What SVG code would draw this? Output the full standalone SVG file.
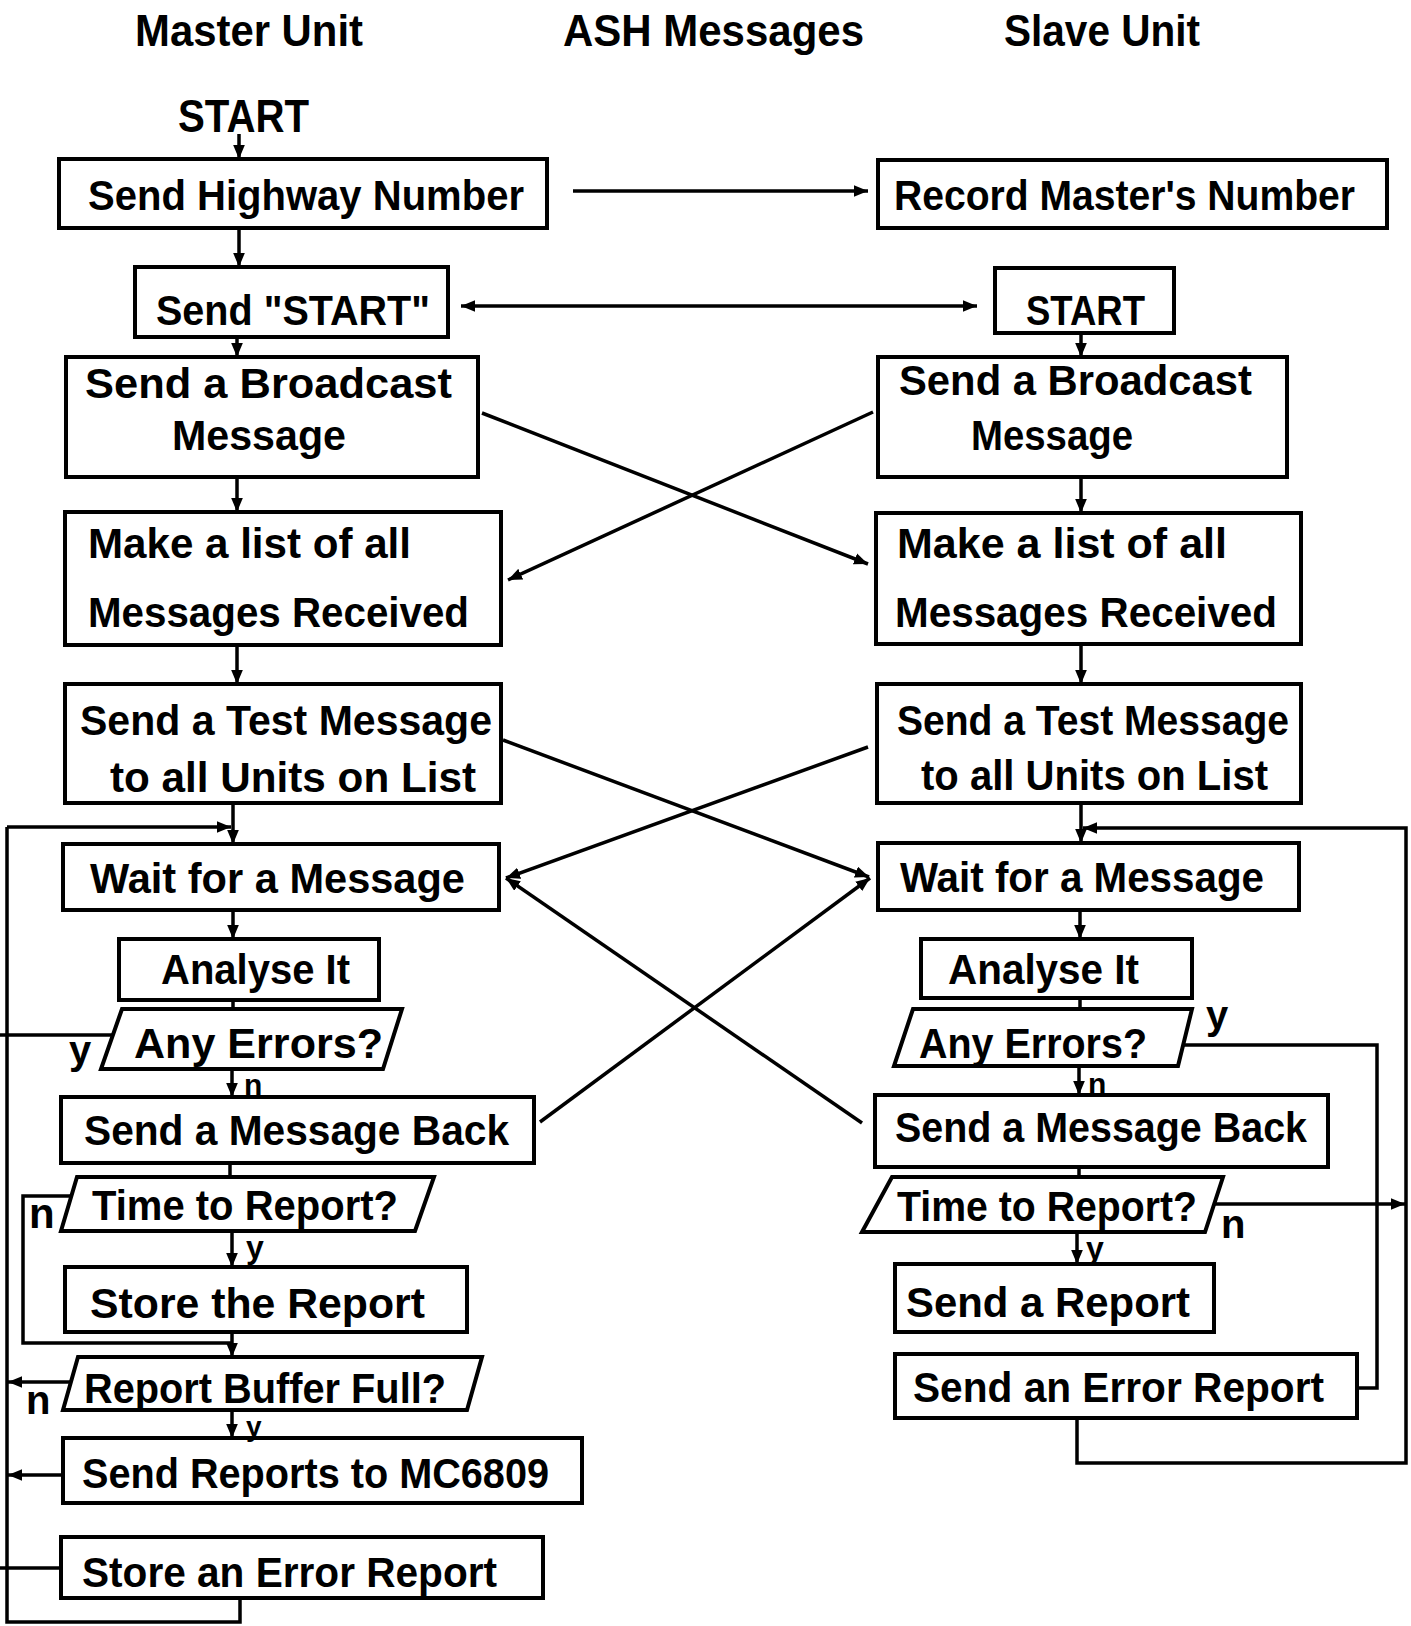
<svg xmlns="http://www.w3.org/2000/svg" width="1411" height="1626" viewBox="0 0 1411 1626">
<style>
.box{fill:#fff;stroke:#000;stroke-width:4}
.t{font-family:"Liberation Sans",Arial,sans-serif;font-weight:bold;font-size:42px;fill:#000}
.h{font-size:44px}
.lb{font-family:"Liberation Sans",Arial,sans-serif;font-weight:bold;fill:#000}
.c{stroke:#000;stroke-width:3.5;fill:none}
</style>
<defs>
<marker id="ah" viewBox="0 0 12 10" refX="12" refY="5" markerWidth="14" markerHeight="12" markerUnits="userSpaceOnUse" orient="auto-start-reverse">
<path d="M0,0 L12,5 L0,10 z" fill="#000"/>
</marker>
</defs>
<rect width="1411" height="1626" fill="#fff"/>

<g id="headers">
<text class="t h" x="135" y="46" textLength="228" lengthAdjust="spacingAndGlyphs">Master Unit</text>
<text class="t h" x="563" y="46" textLength="301" lengthAdjust="spacingAndGlyphs">ASH Messages</text>
<text class="t h" x="1004" y="46" textLength="196" lengthAdjust="spacingAndGlyphs">Slave Unit</text>
<text class="t" x="178" y="132" textLength="131" lengthAdjust="spacingAndGlyphs" style="font-size:46px">START</text>
</g>

<g id="connectors">
<!-- master flow -->
<line class="c" x1="239" y1="134" x2="239" y2="159" marker-end="url(#ah)"/>
<line class="c" x1="239" y1="228" x2="239" y2="267" marker-end="url(#ah)"/>
<line class="c" x1="237" y1="337" x2="237" y2="357" marker-end="url(#ah)"/>
<line class="c" x1="237" y1="477" x2="237" y2="512" marker-end="url(#ah)"/>
<line class="c" x1="237" y1="645" x2="237" y2="684" marker-end="url(#ah)"/>
<line class="c" x1="233" y1="803" x2="233" y2="844" marker-end="url(#ah)"/>
<line class="c" x1="7" y1="827" x2="231" y2="827" marker-end="url(#ah)"/>
<line class="c" x1="233" y1="910" x2="233" y2="939" marker-end="url(#ah)"/>
<line class="c" x1="233" y1="1000" x2="233" y2="1009"/>
<line class="c" x1="232" y1="1069" x2="232" y2="1097" marker-end="url(#ah)"/>
<line class="c" x1="230" y1="1163" x2="230" y2="1177"/>
<line class="c" x1="232" y1="1231" x2="232" y2="1267" marker-end="url(#ah)"/>
<line class="c" x1="232" y1="1332" x2="232" y2="1357" marker-end="url(#ah)"/>
<polyline class="c" points="71,1196 23,1196 23,1343 232,1343"/>
<line class="c" x1="232" y1="1410" x2="232" y2="1438" marker-end="url(#ah)"/>
<line class="c" x1="113" y1="1035" x2="0" y2="1035"/>
<line class="c" x1="71" y1="1382" x2="8" y2="1382" marker-end="url(#ah)"/>
<line class="c" x1="63" y1="1475" x2="8" y2="1475" marker-end="url(#ah)"/>
<line class="c" x1="61" y1="1568" x2="0" y2="1568"/>
<polyline class="c" points="240,1598 240,1622 7,1622 7,827"/>
<!-- messages -->
<line class="c" x1="573" y1="191" x2="868" y2="191" marker-end="url(#ah)"/>
<line class="c" x1="461" y1="306" x2="977" y2="306" marker-start="url(#ah)" marker-end="url(#ah)"/>
<line class="c" x1="482" y1="413" x2="868" y2="564" marker-end="url(#ah)"/>
<line class="c" x1="873" y1="412" x2="508" y2="580" marker-end="url(#ah)"/>
<line class="c" x1="503" y1="740" x2="869" y2="877" marker-end="url(#ah)"/>
<line class="c" x1="868" y1="747" x2="506" y2="878" marker-end="url(#ah)"/>
<line class="c" x1="862" y1="1123" x2="506" y2="878" marker-end="url(#ah)"/>
<line class="c" x1="540" y1="1122" x2="870" y2="878" marker-end="url(#ah)"/>
<!-- slave flow -->
<line class="c" x1="1081" y1="333" x2="1081" y2="357" marker-end="url(#ah)"/>
<line class="c" x1="1081" y1="477" x2="1081" y2="513" marker-end="url(#ah)"/>
<line class="c" x1="1081" y1="644" x2="1081" y2="684" marker-end="url(#ah)"/>
<line class="c" x1="1081" y1="803" x2="1081" y2="843" marker-end="url(#ah)"/>
<polyline class="c" points="1077,1418 1077,1463 1406,1463 1406,828 1083,828" marker-end="url(#ah)"/>
<line class="c" x1="1080" y1="910" x2="1080" y2="939" marker-end="url(#ah)"/>
<line class="c" x1="1080" y1="998" x2="1080" y2="1009"/>
<line class="c" x1="1079" y1="1066" x2="1079" y2="1095" marker-end="url(#ah)"/>
<line class="c" x1="1079" y1="1167" x2="1079" y2="1177"/>
<line class="c" x1="1077" y1="1232" x2="1077" y2="1264" marker-end="url(#ah)"/>
<polyline class="c" points="1183,1045 1377,1045 1377,1388 1357,1388"/>
<line class="c" x1="1214" y1="1204" x2="1405" y2="1204" marker-end="url(#ah)"/>
</g>

<g id="m-highway"><rect class="box" x="59" y="159" width="488" height="69"/><text class="t" x="88" y="210" textLength="436" lengthAdjust="spacingAndGlyphs">Send Highway Number</text></g>
<g id="m-sendstart"><rect class="box" x="135" y="267" width="313" height="70"/><text class="t" x="156" y="325" textLength="274" lengthAdjust="spacingAndGlyphs">Send "START"</text></g>
<g id="m-broadcast"><rect class="box" x="66" y="357" width="412" height="120"/><text class="t" x="85" y="398" textLength="367" lengthAdjust="spacingAndGlyphs">Send a Broadcast</text><text class="t" x="172" y="450" textLength="174" lengthAdjust="spacingAndGlyphs">Message</text></g>
<g id="m-list"><rect class="box" x="65" y="512" width="436" height="133"/><text class="t" x="88" y="558" textLength="323" lengthAdjust="spacingAndGlyphs">Make a list of all</text><text class="t" x="88" y="627" textLength="381" lengthAdjust="spacingAndGlyphs">Messages Received</text></g>
<g id="m-test"><rect class="box" x="65" y="684" width="436" height="119"/><text class="t" x="80" y="735" textLength="412" lengthAdjust="spacingAndGlyphs">Send a Test Message</text><text class="t" x="110" y="792" textLength="366" lengthAdjust="spacingAndGlyphs">to all Units on List</text></g>
<g id="m-wait"><rect class="box" x="63" y="844" width="436" height="66"/><text class="t" x="90" y="893" textLength="375" lengthAdjust="spacingAndGlyphs">Wait for a Message</text></g>
<g id="m-analyse"><rect class="box" x="119" y="939" width="260" height="61"/><text class="t" x="161" y="984" textLength="189" lengthAdjust="spacingAndGlyphs">Analyse It</text></g>
<g id="m-errors"><polygon class="box" points="122,1009 402,1009 383,1069 101,1069"/><text class="t" x="134" y="1058" textLength="249" lengthAdjust="spacingAndGlyphs">Any Errors?</text></g>
<g id="m-sendback"><rect class="box" x="61" y="1097" width="473" height="66"/><text class="t" x="84" y="1145" textLength="425" lengthAdjust="spacingAndGlyphs">Send a Message Back</text></g>
<g id="m-time"><polygon class="box" points="77,1177 434,1177 415,1231 61,1231"/><text class="t" x="92" y="1220" textLength="306" lengthAdjust="spacingAndGlyphs">Time to Report?</text></g>
<g id="m-store"><rect class="box" x="65" y="1267" width="402" height="65"/><text class="t" x="90" y="1318" textLength="335" lengthAdjust="spacingAndGlyphs">Store the Report</text></g>
<g id="m-buffer"><polygon class="box" points="78,1357 482,1357 467,1410 63,1410"/><text class="t" x="84" y="1403" textLength="362" lengthAdjust="spacingAndGlyphs">Report Buffer Full?</text></g>
<g id="m-sendreports"><rect class="box" x="63" y="1438" width="519" height="65"/><text class="t" x="82" y="1488" textLength="467" lengthAdjust="spacingAndGlyphs">Send Reports to MC6809</text></g>
<g id="m-storeerror"><rect class="box" x="61" y="1537" width="482" height="61"/><text class="t" x="82" y="1587" textLength="415" lengthAdjust="spacingAndGlyphs">Store an Error Report</text></g>

<g id="s-record"><rect class="box" x="878" y="160" width="509" height="68"/><text class="t" x="894" y="210" textLength="461" lengthAdjust="spacingAndGlyphs">Record Master's Number</text></g>
<g id="s-start"><rect class="box" x="995" y="268" width="179" height="65"/><text class="t" x="1026" y="325" textLength="119" lengthAdjust="spacingAndGlyphs">START</text></g>
<g id="s-broadcast"><rect class="box" x="878" y="357" width="409" height="120"/><text class="t" x="899" y="395" textLength="353" lengthAdjust="spacingAndGlyphs">Send a Broadcast</text><text class="t" x="971" y="450" textLength="162" lengthAdjust="spacingAndGlyphs">Message</text></g>
<g id="s-list"><rect class="box" x="876" y="513" width="425" height="131"/><text class="t" x="897" y="558" textLength="330" lengthAdjust="spacingAndGlyphs">Make a list of all</text><text class="t" x="895" y="627" textLength="382" lengthAdjust="spacingAndGlyphs">Messages Received</text></g>
<g id="s-test"><rect class="box" x="877" y="684" width="424" height="119"/><text class="t" x="897" y="735" textLength="392" lengthAdjust="spacingAndGlyphs">Send a Test Message</text><text class="t" x="921" y="790" textLength="347" lengthAdjust="spacingAndGlyphs">to all Units on List</text></g>
<g id="s-wait"><rect class="box" x="878" y="843" width="421" height="67"/><text class="t" x="900" y="892" textLength="364" lengthAdjust="spacingAndGlyphs">Wait for a Message</text></g>
<g id="s-analyse"><rect class="box" x="921" y="939" width="271" height="59"/><text class="t" x="948" y="984" textLength="191" lengthAdjust="spacingAndGlyphs">Analyse It</text></g>
<g id="s-errors"><polygon class="box" points="913,1009 1192,1009 1178,1066 894,1066"/><text class="t" x="919" y="1058" textLength="228" lengthAdjust="spacingAndGlyphs">Any Errors?</text></g>
<g id="s-sendback"><rect class="box" x="875" y="1095" width="453" height="72"/><text class="t" x="895" y="1142" textLength="412" lengthAdjust="spacingAndGlyphs">Send a Message Back</text></g>
<g id="s-time"><polygon class="box" points="892,1177 1223,1177 1205,1232 862,1232"/><text class="t" x="897" y="1221" textLength="300" lengthAdjust="spacingAndGlyphs">Time to Report?</text></g>
<g id="s-sendreport"><rect class="box" x="895" y="1264" width="319" height="68"/><text class="t" x="906" y="1317" textLength="284" lengthAdjust="spacingAndGlyphs">Send a Report</text></g>
<g id="s-senderror"><rect class="box" x="895" y="1354" width="462" height="64"/><text class="t" x="913" y="1402" textLength="411" lengthAdjust="spacingAndGlyphs">Send an Error Report</text></g>

<g id="labels">
<text class="lb" x="69" y="1064" font-size="40">y</text>
<text class="lb" x="244" y="1095" font-size="30">n</text>
<text class="lb" x="29" y="1228" font-size="42">n</text>
<text class="lb" x="246" y="1258" font-size="32">y</text>
<text class="lb" x="26" y="1414" font-size="40">n</text>
<text class="lb" x="246" y="1436" font-size="28">y</text>
<text class="lb" x="1206" y="1029" font-size="40">y</text>
<text class="lb" x="1088" y="1094" font-size="30">n</text>
<text class="lb" x="1221" y="1238" font-size="40">n</text>
<text class="lb" x="1086" y="1259" font-size="32">y</text>
</g>
</svg>
